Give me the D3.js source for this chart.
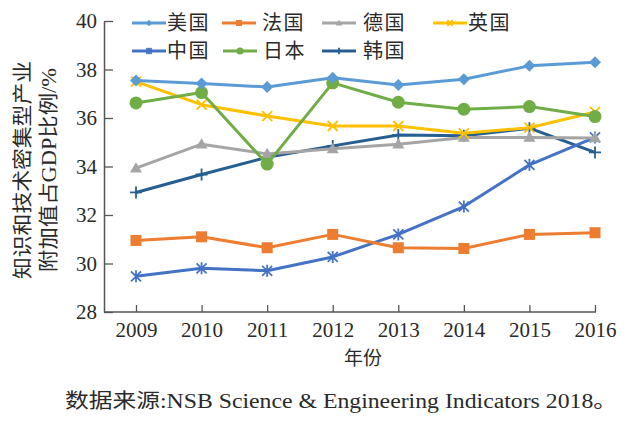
<!DOCTYPE html>
<html><head><meta charset="utf-8">
<script src="https://cdn.jsdelivr.net/npm/d3@7"></script>
<style>
html,body{margin:0;padding:0;background:#fff;}
svg{display:block;}
</style></head>
<body>
<svg id="c" width="640" height="422"></svg>
<script>
const years = [2009, 2010, 2011, 2012, 2013, 2014, 2015, 2016];
const yTicks = [28, 30, 32, 34, 36, 38, 40];
const seriesNames = ["美国", "法国", "德国", "英国", "中国", "日本", "韩国"];
const usa    = [37.55, 37.42, 37.28, 37.66, 37.36, 37.6, 38.15, 38.3];
const france = [30.95, 31.1, 30.65, 31.2, 30.65, 30.62, 31.2, 31.27];
const germany= [33.93, 34.92, 34.52, 34.73, 34.92, 35.2, 35.2, 35.18];
const uk     = [37.5, 36.55, 36.08, 35.67, 35.67, 35.37, 35.6, 36.25];
const china  = [29.47, 29.8, 29.7, 30.27, 31.2, 32.35, 34.07, 35.2];
const japan  = [36.62, 37.05, 34.1, 37.45, 36.65, 36.36, 36.47, 36.06];
const korea  = [32.93, 33.67, 34.38, 34.85, 35.3, 35.27, 35.58, 34.58];
const yLabel1 = "知识和技术密集型产业";
const yLabel2 = "附加值占GDP比例/%";
const xLabel = "年份";
const source = "数据来源:NSB Science & Engineering Indicators 2018。";

const seriesValues = [usa, france, germany, uk, china, japan, korea];
const colors = ["#5B9BD5", "#ED7D31", "#A5A5A5", "#FFC000", "#4472C4", "#70AD47", "#255E91"];
const markers = ["diamond", "square", "triangle", "x", "star", "circle", "plus"];

const svg = d3.select("#c");
const x = d3.scalePoint().domain(years).range([136, 595]);
const y = d3.scaleLinear().domain([28, 40]).range([312, 21]);

const serif = "'Liberation Serif', 'DejaVu Serif', serif";
const mixed = "'Liberation Serif', 'Noto Sans CJK SC', serif";
const cjk = "'Noto Sans CJK SC', sans-serif";
const textColor = "#2a2a2a";

// Axes
const yAxis = d3.axisLeft(y).tickValues(yTicks).tickSizeInner(-9).tickSizeOuter(0).tickPadding(7);
const gy = svg.append("g").attr("transform", "translate(104,0)").call(yAxis);
gy.select(".domain").attr("stroke", "#555").attr("stroke-width", 1.5);
gy.selectAll(".tick line").attr("stroke", "#555").attr("stroke-width", 1.3);
gy.selectAll(".tick text").style("font-family", serif).style("font-size", "21px").attr("fill", textColor);

const xAxis = d3.axisBottom(x).tickSizeInner(-7).tickSizeOuter(0).tickPadding(10);
const gx = svg.append("g").attr("transform", "translate(0,312)").call(xAxis);
gx.select(".domain").attr("stroke", "#555").attr("stroke-width", 1.5).attr("d", "M104,0H596");
gx.selectAll(".tick line").attr("stroke", "#555").attr("stroke-width", 1.3);
gx.selectAll(".tick text").style("font-family", serif).style("font-size", "21px").attr("fill", textColor);

// Marker drawing
function drawMarker(g, type, color, s) {
  if (type === "diamond") {
    g.append("path").attr("d", `M0,${-s}L${s},0L0,${s}L${-s},0Z`).attr("fill", color);
  } else if (type === "square") {
    g.append("rect").attr("x", -s).attr("y", -s).attr("width", 2*s).attr("height", 2*s).attr("fill", color);
  } else if (type === "triangle") {
    g.append("path").attr("d", `M0,${-s*1.1}L${s*1.1},${s*0.8}L${-s*1.1},${s*0.8}Z`).attr("fill", color);
  } else if (type === "x") {
    g.append("path").attr("d", `M${-s},${-s}L${s},${s}M${s},${-s}L${-s},${s}`).attr("stroke", color).attr("stroke-width", 1.8).attr("fill", "none");
  } else if (type === "star") {
    g.append("path").attr("d", `M${-s},${-s}L${s},${s}M${s},${-s}L${-s},${s}M0,${-s*1.2}L0,${s*1.2}`).attr("stroke", color).attr("stroke-width", 1.8).attr("fill", "none");
  } else if (type === "circle") {
    g.append("circle").attr("r", s).attr("fill", color);
  } else if (type === "plus") {
    g.append("path").attr("d", `M${-s},0L${s},0M0,${-s}L0,${s}`).attr("stroke", color).attr("stroke-width", 1.8).attr("fill", "none");
  }
}
const markerSize = {diamond: 6, square: 5.5, triangle: 5.5, x: 5, star: 5, circle: 6.5, plus: 6};

const line = d3.line().x((d, i) => x(years[i])).y(d => y(d));
const order = [6, 4, 1, 2, 3, 5, 0];
order.forEach(k => {
  const g = svg.append("g");
  g.append("path").datum(seriesValues[k]).attr("d", line)
    .attr("fill", "none").attr("stroke", colors[k]).attr("stroke-width", 3).attr("stroke-linejoin", "round");
  seriesValues[k].forEach((v, i) => {
    const mg = g.append("g").attr("transform", `translate(${x(years[i])},${y(v)})`);
    drawMarker(mg, markers[k], colors[k], markerSize[markers[k]]);
  });
});

// Legend
const legendPos = [
  {lx: 132, tx: 167, y: 23}, {lx: 222, tx: 262, y: 23}, {lx: 322, tx: 363, y: 23}, {lx: 433, tx: 468, y: 23},
  {lx: 132, tx: 167, y: 51}, {lx: 223, tx: 263, y: 51}, {lx: 322, tx: 363, y: 51}
];
seriesNames.forEach((name, k) => {
  const p = legendPos[k];
  const g = svg.append("g");
  g.append("line").attr("x1", p.lx).attr("x2", p.lx + 34).attr("y1", p.y).attr("y2", p.y)
    .attr("stroke", colors[k]).attr("stroke-width", 3);
  const mg = g.append("g").attr("transform", `translate(${p.lx + 17},${p.y})`);
  drawMarker(mg, markers[k], colors[k], markerSize[markers[k]] * 0.55);
  g.append("text").attr("x", p.tx).attr("y", p.y).attr("dy", "0.36em")
    .style("font-family", cjk).style("font-size", "20px").attr("letter-spacing", 1.5).attr("fill", textColor).text(name);
});

// Y label
svg.append("text").attr("transform", "translate(23,170) rotate(-90)").attr("text-anchor", "middle").attr("dy", "0.36em")
  .style("font-family", cjk).style("font-size", "20px").attr("fill", textColor)
  .attr("textLength", 218).attr("lengthAdjust", "spacingAndGlyphs").text(yLabel1);
svg.append("text").attr("transform", "translate(49,170) rotate(-90)").attr("text-anchor", "middle").attr("dy", "0.36em")
  .style("font-family", mixed).style("font-size", "20px").attr("fill", textColor)
  .attr("textLength", 204).attr("lengthAdjust", "spacingAndGlyphs").text(yLabel2);

// X label
svg.append("text").attr("x", 363).attr("y", 358).attr("dy", "0.36em").attr("text-anchor", "middle")
  .style("font-family", cjk).style("font-size", "19px").attr("fill", textColor).text(xLabel);

// Source
svg.append("text").attr("x", 65).attr("y", 401).attr("dy", "0.36em")
  .style("font-family", mixed).style("font-size", "20px").attr("fill", textColor)
  .attr("textLength", 552).attr("lengthAdjust", "spacingAndGlyphs").text(source);
</script>
</body></html>
